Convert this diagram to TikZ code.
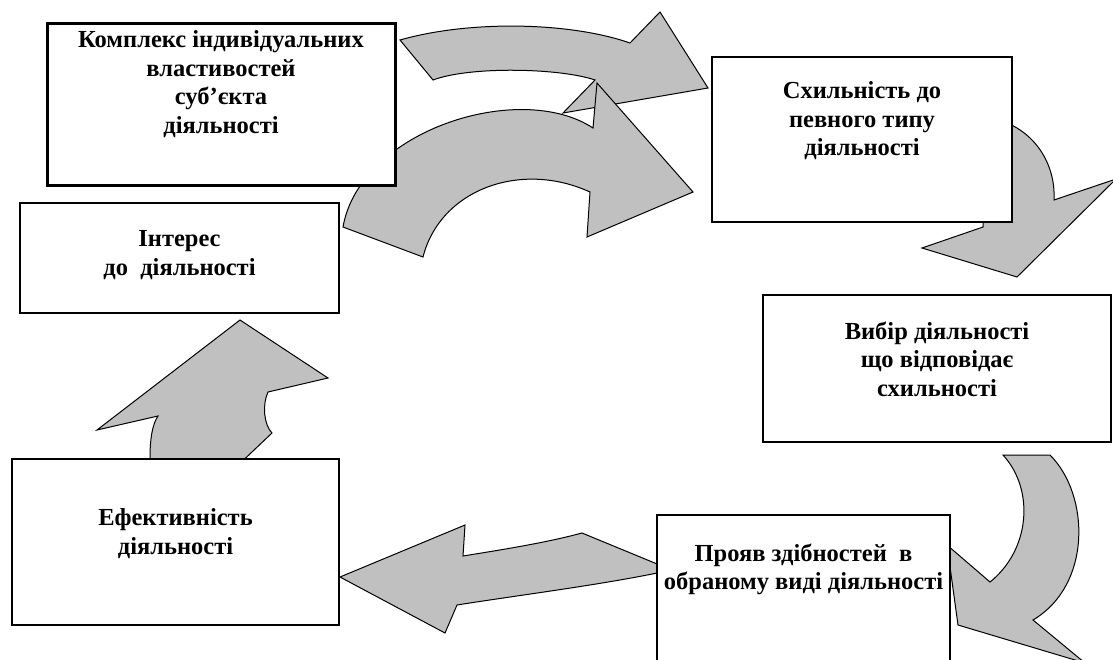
\documentclass[tikz,border=0pt]{standalone}
\usepackage{fontspec}
\setmainfont{Liberation Serif}
\usetikzlibrary{positioning}
\definecolor{arrowgray}{HTML}{C0C0C0}

\begin{document}
\begin{tikzpicture}[x=1pt, y=-1pt,
        every node/.style={font=\bfseries\fontsize{24.5}{28.5}\selectfont, inner sep=0pt, align=center},
        box/.style={draw, rectangle, fill=white, line width=1.3pt},
        blockarrow/.style={draw, fill=arrowgray, line width=1pt, line join=miter}]
    \useasboundingbox (0,0) rectangle (1113,659);

    % Upper curved arrow (Комплекс -> Схильність)
    \draw[blockarrow] (400,40) .. controls (470,20) and (570,22) .. (630,43)
        -- (660,12) -- (708,88) -- (563,113) -- (595,80)
        .. controls (560,68) and (470,66) .. (433,80) -- cycle;

    % Lower curved arrow (Інтерес -> Схильність)
    \draw[blockarrow] (343,227) .. controls (360,130) and (520,80) .. (593,128)
        -- (597,83) -- (693,192) -- (587,237) -- (590,192)
        .. controls (520,160) and (440,190) .. (423,257) -- cycle;

    % Arrow down to the choice box
    \draw[blockarrow] (990,118) .. controls (1030,125) and (1056,160) .. (1054,200)
        -- (1116,179) -- (1017,277) -- (922,248) -- (983,227)
        -- (983,200) -- (975,140) -- cycle;

    % Arrow bending into the box of abilities
    \draw[blockarrow] (1003,455) -- (1050,455)
        .. controls (1090,495) and (1092,585) .. (1033,620)
        -- (1085,663) -- (958,625) -- (947,545) -- (990,582)
        .. controls (1030,550) and (1035,490) .. (1003,455) -- cycle;

    % Arrow to the left (efficiency)
    \draw[blockarrow] (340,577) -- (465,525) -- (463,556)
        .. controls (500,550) and (545,543) .. (582,533)
        -- (662,566) -- (662,572)
        .. controls (600,585) and (520,595) .. (457,605)
        -- (445,633) -- cycle;

    % Arrow up (interest)
    \draw[blockarrow] (240,320) -- (328,378) -- (268,392)
        .. controls (262,405) and (264,425) .. (272,433)
        -- (233,470) -- (150,470) -- (150,458)
        .. controls (150,440) and (152,425) .. (158,416)
        -- (97,430) -- cycle;

    % Boxes
    \node[box, line width=3pt, minimum width=348, minimum height=162] (K) at (221,104) {};
    \node[box, minimum width=300, minimum height=165] (S) at (862,139.5) {};
    \node[box, minimum width=319, minimum height=110] (I) at (179.5,258) {};
    \node[box, minimum width=348, minimum height=147] (V) at (937,368.5) {};
    \node[box, minimum width=327, minimum height=166] (E) at (175.5,542) {};
    \node[box, minimum width=293, minimum height=165] (P) at (803.5,597.5) {};

    % Texts
    \node[below=9pt of K.north] (Kt) {Комплекс індивідуальних\\ властивостей\\ суб’єкта\\ діяльності};
    \node[below=25pt of S.north] (St) {Схильність до\\ певного типу\\ діяльності};
    \node[below=28pt of I.north] (It) {Інтерес\\ до\ \ діяльності};
    \node[below=27pt of V.north] (Vt) {Вибір діяльності\\ що відповідає\\ схильності};
    \node[below=50pt of E.north] (Et) {Ефективність\\ діяльності};
    \node[below=29pt of P.north] (Pt) {Прояв здібностей\ \ в\\ обраному виді діяльності};
\end{tikzpicture}
\end{document}
